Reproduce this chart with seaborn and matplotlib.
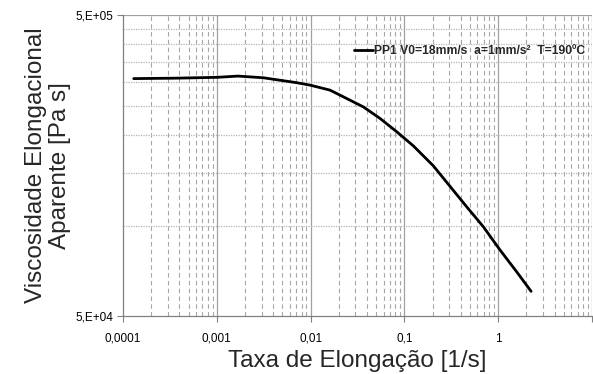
import numpy as np
import pandas as pd
import matplotlib
matplotlib.use("Agg")
import matplotlib.pyplot as plt
import seaborn as sns
from matplotlib.ticker import FixedLocator, NullFormatter

# data
strain_rate = [1.30e-4, 3.58e-4, 1.0e-3, 1.68e-3, 3.13e-3, 7.11e-3, 9.86e-3,
               0.0161, 0.0365, 0.055, 0.0828, 0.1245, 0.203, 0.306, 0.461,
               0.693, 1.045, 1.57, 2.24]
viscosity = [3.08e5, 3.09e5, 3.11e5, 3.14e5, 3.10e5, 2.985e5, 2.93e5,
             2.82e5, 2.48e5, 2.27e5, 2.05e5, 1.84e5, 1.58e5, 1.35e5, 1.154e5,
             9.91e4, 8.29e4, 7.02e4, 6.04e4]
series_label = "PP1 V0=18mm/s  a=1mm/s\u00b2  T=190\u00baC"
x_ticks = [1e-4, 1e-3, 1e-2, 1e-1, 1, 10]
x_ticklabels = ["0,0001", "0,001", "0,01", "0,1", "1", ""]
y_ticks = [5e4, 5e5]
y_ticklabels = ["5,E+04", "5,E+05"]
y_minor = [1e5, 1.5e5, 2e5, 2.5e5, 3e5, 3.5e5, 4e5, 4.5e5]

sns.set_theme(style="white")
plt.rcParams['font.family'] = ['Liberation Sans', 'DejaVu Sans']

df = pd.DataFrame({"x": strain_rate, "y": viscosity, "s": series_label})

fig = plt.figure(figsize=(5.93, 3.74), dpi=100)
ax = fig.add_axes([0.2074, 0.155, 0.791, 0.804])

ax.set_xscale("log")
ax.set_yscale("log")
ax.set_xlim(1e-4, 10)
ax.set_ylim(5e4, 5e5)

# grid lines
xminor = [m * 10.0**e for e in range(-4, 1) for m in range(2, 10)]
for v in xminor:
    ax.axvline(v, color="#a6a6a6", lw=0.8, ls=(0, (4, 3)), zorder=1)
for v in x_ticks[1:]:
    ax.axvline(v, color="#a0a0a0", lw=0.9, ls="-", zorder=1)
for v in y_minor:
    ax.axhline(v, color="#b5b5b5", lw=0.9, ls=(0, (1, 1)), zorder=1)
ax.axhline(5e5, color="#a0a0a0", lw=0.9, zorder=1)

sns.lineplot(data=df, x="x", y="y", hue="s", palette=["black"], lw=2.0,
             ax=ax, zorder=3)

ax.xaxis.set_major_locator(FixedLocator(x_ticks))
ax.set_xticklabels(x_ticklabels)
ax.xaxis.set_minor_locator(FixedLocator([]))
ax.yaxis.set_major_locator(FixedLocator(y_ticks))
ax.set_yticklabels(y_ticklabels)
ax.yaxis.set_minor_locator(FixedLocator([]))
ax.yaxis.set_minor_formatter(NullFormatter())
ax.xaxis.set_minor_formatter(NullFormatter())

ax.tick_params(axis="both", which="major", direction="out", length=4,
               width=0.8, color="#808080", labelsize=8.5, labelcolor="black",
               bottom=True, left=True, pad=3)
ax.tick_params(axis="x", pad=8)

for side in ["top", "right"]:
    ax.spines[side].set_visible(False)
for side in ["left", "bottom"]:
    ax.spines[side].set_color("#808080")
    ax.spines[side].set_linewidth(0.9)

ax.set_xlabel("Taxa de Elongação [1/s]", fontsize=17.5, labelpad=4)
ax.set_ylabel("Viscosidade Elongacional\nAparente [Pa s]", fontsize=17.5,
              labelpad=3, linespacing=1.15)

leg = ax.legend(loc="center right", bbox_to_anchor=(0.995, 0.881),
                frameon=False, handlelength=1.5, handletextpad=0.1,
                borderaxespad=0, prop={"weight": "bold", "size": 8.7})
for line in leg.get_lines():
    line.set_linewidth(2.0)

fig.savefig("out.png", dpi=100)
